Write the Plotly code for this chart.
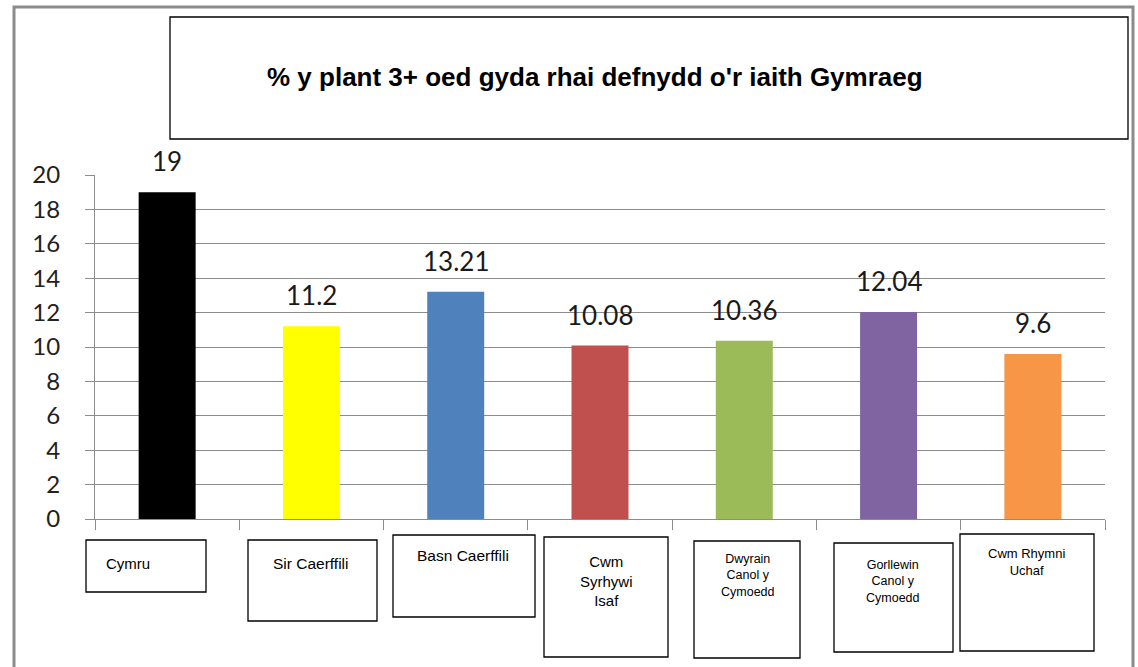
import plotly.graph_objects as go

categories = ["Cymru", "Sir Caerffili", "Basn Caerffili", "Cwm Syrhywi Isaf",
              "Dwyrain Canol y Cymoedd", "Gorllewin Canol y Cymoedd", "Cwm Rhymni Uchaf"]
values = [19, 11.2, 13.21, 10.08, 10.36, 12.04, 9.6]
value_labels = ["19", "11.2", "13.21", "10.08", "10.36", "12.04", "9.6"]
box_labels = ["Cymru", "Sir Caerffili", "Basn Caerffili", "Cwm<br>Syrhywi<br>Isaf",
              "Dwyrain<br>Canol y<br>Cymoedd", "Gorllewin<br>Canol y<br>Cymoedd", "Cwm Rhymni<br>Uchaf"]
colors = ["#000000", "#FFFF00", "#4F81BD", "#C0504D", "#9BBB59", "#8064A2", "#F79646"]
title_text = "% y plant 3+ oed gyda rhai defnydd o'r iaith Gymraeg"
y_ticks = list(range(0, 21, 2))

W, H = 1138, 667
L, R, T, B = 95, 1105, 175, 519


def px(x):
    return (x - L) / (R - L)


def py(y):
    return (B - y) / (B - T)


# label box layout: (x0, y0, x1, y1, text_x, text_y_top, font_size)
box_layout = [
    (86, 540, 206, 592, 128, 553, 15),
    (248, 540, 377, 621, 311, 553, 15.5),
    (393, 535, 535, 617, 463, 545, 15.5),
    (544, 537, 668, 657, 606, 551, 15),
    (694, 541, 800, 658, 748, 550, 12.5),
    (834, 543, 953, 652, 893, 556, 12.5),
    (960, 534, 1094, 651, 1026, 544, 13),
]

fig = go.Figure()
fig.add_trace(go.Bar(x=categories, y=values, marker_color=colors, marker_line_width=0,
                     width=0.395, showlegend=False, hoverinfo="x+y"))

shapes = [
    dict(type="rect", xref="paper", yref="paper", x0=px(14), x1=px(1133), y0=py(700), y1=py(7),
         line=dict(color="#8c8c8c", width=3), fillcolor="rgba(0,0,0,0)", layer="below"),
    dict(type="rect", xref="paper", yref="paper", x0=px(170), x1=px(1128), y0=py(139), y1=py(17),
         line=dict(color="#000000", width=1.3), fillcolor="rgba(0,0,0,0)"),
]
annotations = [
    dict(text="<b>" + title_text + "</b>", xref="paper", yref="paper", x=px(595), y=py(77),
         showarrow=False, font=dict(family="Liberation Sans, Arial", size=26, color="#000000"),
         xanchor="center", yanchor="middle"),
]
for cat, v, lab in zip(categories, values, value_labels):
    annotations.append(dict(text=lab, x=cat, y=v, xref="x", yref="y", showarrow=False,
                            yanchor="middle", yshift=31,
                            font=dict(family="Lato, Carlito, Calibri", size=26, color="#1a1a1a")))
for lab, (x0, y0, x1, y1, tx, ty, fs) in zip(box_labels, box_layout):
    shapes.append(dict(type="rect", xref="paper", yref="paper", x0=px(x0), x1=px(x1),
                       y0=py(y1), y1=py(y0), line=dict(color="#000000", width=1.3),
                       fillcolor="#ffffff"))
    annotations.append(dict(text=lab, xref="paper", yref="paper", x=px(tx), y=py(ty),
                            showarrow=False, xanchor="center", yanchor="top", align="center",
                            font=dict(family="Liberation Sans, Arial", size=fs, color="#000000")))

fig.update_layout(
    width=W, height=H,
    margin=dict(l=L, r=W - R, t=T, b=H - B, pad=0),
    paper_bgcolor="#ffffff", plot_bgcolor="#ffffff",
    shapes=shapes, annotations=annotations,
    bargap=0.6,
)
fig.update_xaxes(showticklabels=False, ticks="outside", tickson="boundaries", ticklen=10,
                 tickcolor="#8c8c8c", showline=True, linecolor="#8c8c8c", linewidth=1,
                 showgrid=False, zeroline=False, fixedrange=True)
fig.update_yaxes(range=[0, 20], tickvals=y_ticks, ticks="outside", ticklen=9, tickcolor="#8c8c8c",
                 showline=True, linecolor="#8c8c8c", linewidth=1, showgrid=True,
                 gridcolor="#8c8c8c", gridwidth=1, zeroline=False, ticklabelstandoff=20,
                 tickfont=dict(family="Lato, Carlito, Calibri", size=24, color="#222222"),
                 fixedrange=True)

fig.write_html("out.html", config={"displayModeBar": False},
               post_script="document.body.style.margin='0';document.body.style.overflow='hidden';")
